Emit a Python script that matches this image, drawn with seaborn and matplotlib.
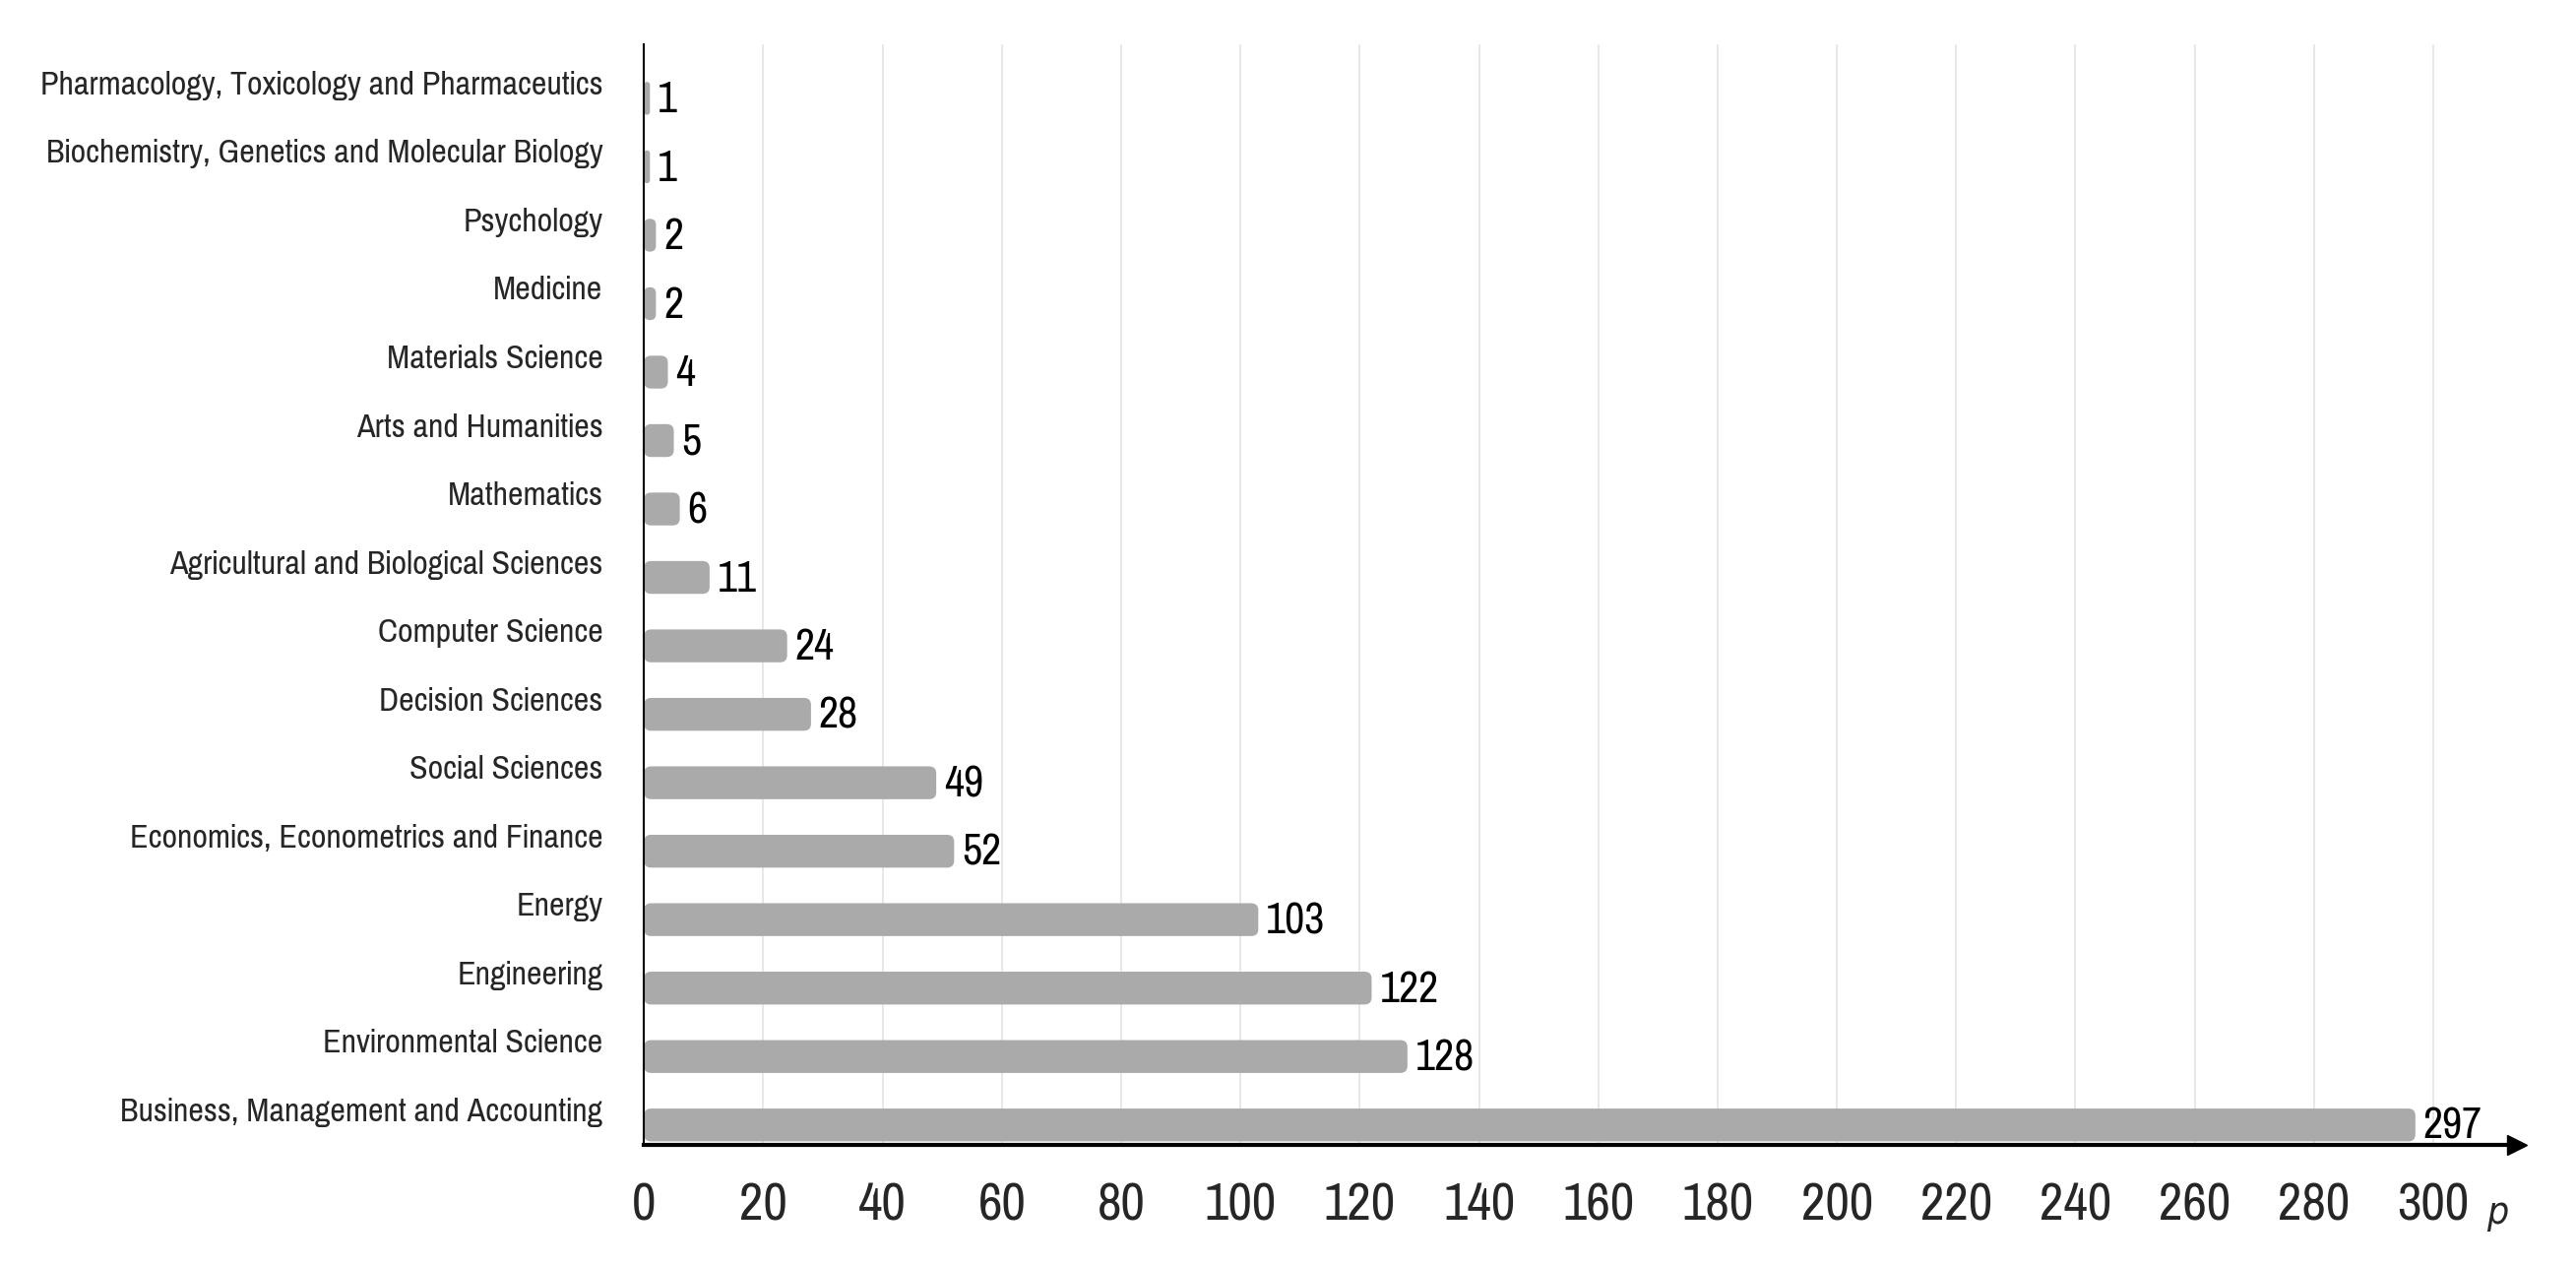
import matplotlib
matplotlib.use('Agg')
import matplotlib.pyplot as plt
import matplotlib.transforms as mtransforms
from matplotlib import font_manager
from matplotlib.patches import FancyBboxPatch
import seaborn as sns

# subject areas, top to bottom
categories = [
    "Pharmacology, Toxicology and Pharmaceutics",
    "Biochemistry, Genetics and Molecular Biology",
    "Psychology",
    "Medicine",
    "Materials Science",
    "Arts and Humanities",
    "Mathematics",
    "Agricultural and Biological Sciences",
    "Computer Science",
    "Decision Sciences",
    "Social Sciences",
    "Economics, Econometrics and Finance",
    "Energy",
    "Engineering",
    "Environmental Science",
    "Business, Management and Accounting",
]
counts = [1, 1, 2, 2, 4, 5, 6, 11, 24, 28, 49, 52, 103, 122, 128, 297]
x_ticks = list(range(0, 301, 20))

sns.set_style("white")

# look for a narrow font, the reference uses a condensed face
narrow = None
for f in font_manager.fontManager.ttflist:
    if f.style != "normal" or f.weight not in (400, "normal", "regular"):
        continue
    if "Narrow" in f.name or "Condensed" in f.name or f.stretch in ("condensed", "semi-condensed", 400, "extra-condensed"):
        if narrow is None or "Narrow" in f.name:
            narrow = f
if narrow is not None:
    plt.rcParams['font.family'] = [narrow.name, 'DejaVu Sans']
    plt.rcParams['font.stretch'] = narrow.stretch
else:
    plt.rcParams['font.family'] = ['DejaVu Sans']

fig = plt.figure(figsize=(26.17, 12.85), dpi=100)
ax = fig.add_axes([0.250, 0.095, 0.727, 0.870])

bar_color = "#aaaaaa"
sns.barplot(x=counts, y=categories, orient="h", color=bar_color,
            width=0.48, ax=ax, zorder=2)

# swap the square bars for rounded ones
for p in list(ax.patches):
    x0, y0, w, h = p.get_x(), p.get_y(), p.get_width(), p.get_height()
    p.set_visible(False)
    r = min(1.2, w / 2)
    ax.add_patch(FancyBboxPatch((x0, y0), w, h,
                                boxstyle=f"round,pad=0,rounding_size={r}",
                                mutation_aspect=0.084,
                                facecolor=bar_color, edgecolor="none", zorder=2))

ax.set_xlim(0, 314)
ax.set_ylim(15.29, -0.79)
ax.set_xticks(x_ticks)
ax.set_xticklabels([str(t) for t in x_ticks])
ax.tick_params(axis="x", length=0, pad=27)
ax.tick_params(axis="y", length=0, pad=30)

# size the fonts so the texts match the reference widths
renderer = fig.canvas.get_renderer()

def fit_size(text, width_px, base=20):
    t = fig.text(0, 0, text, fontsize=base)
    w = t.get_window_extent(renderer).width
    t.remove()
    return base * width_px / w

cat_size = min(30, fit_size(categories[1], 566))
num_size = min(40, fit_size("103", 60))
tick_size = min(46, fit_size("100", 73))

for lab in ax.get_yticklabels():
    lab.set_fontsize(cat_size)
for lab in ax.get_xticklabels():
    lab.set_fontsize(tick_size)

# value labels
for i, v in enumerate(counts):
    ax.text(v + 1.3, i + 0.03, str(v), va="center", ha="left", fontsize=num_size,
            color="black", zorder=3)

# category labels sit a bit above the bar centre
offset = mtransforms.ScaledTranslation(0, 16 / 100, fig.dpi_scale_trans)
for lab in ax.get_yticklabels():
    lab.set_transform(lab.get_transform() + offset)

ax.set_xlabel("")
ax.set_ylabel("")
ax.grid(axis="x", color="#e6e6e6", linewidth=1.3, zorder=0)
ax.grid(axis="y", visible=False)
ax.set_axisbelow(True)

for s in ["top", "right"]:
    ax.spines[s].set_visible(False)
ax.spines["left"].set_color("black")
ax.spines["left"].set_linewidth(1.5)
ax.spines["bottom"].set_color("black")
ax.spines["bottom"].set_linewidth(3)

# arrow head at the end of the x axis
ax.plot(1, 0, ">", color="black", markersize=14, transform=ax.transAxes,
        clip_on=False, zorder=5)
ax.text(0.9897, -0.062, "p", transform=ax.transAxes, fontsize=28,
        family=["DejaVu Sans"], style="italic", ha="center", va="center")

fig.savefig("out.png", dpi=100)
